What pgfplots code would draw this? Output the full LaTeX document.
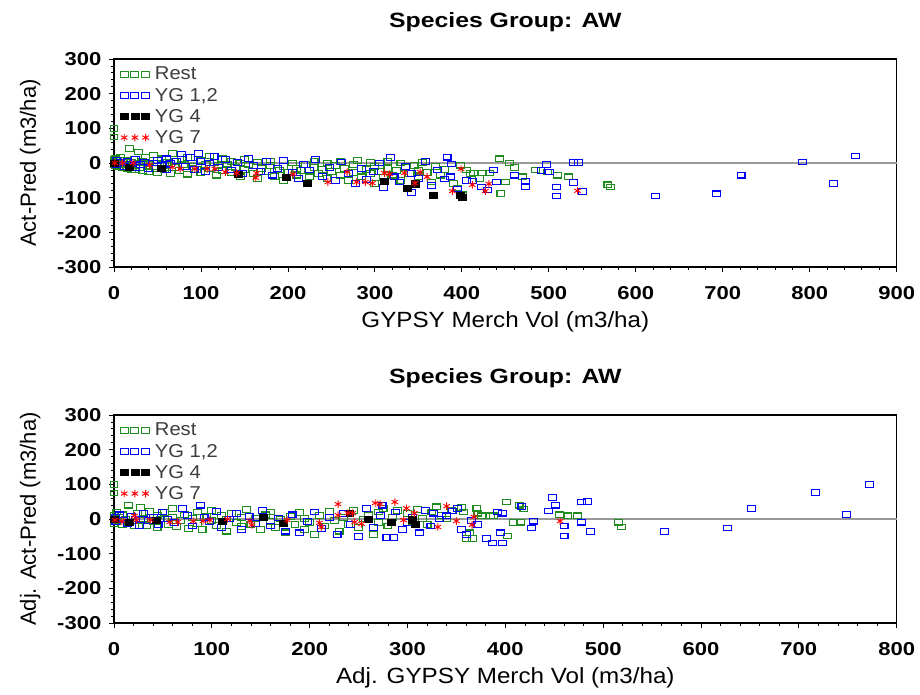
\documentclass[border=0pt]{standalone}
\usepackage{pgfplots}
\pgfplotsset{compat=1.18}
\usepackage{fontspec}
\setmainfont{Liberation Sans}
\definecolor{sgreen}{RGB}{30,140,30}
\definecolor{sblue}{RGB}{0,0,255}
\definecolor{sred}{RGB}{255,0,0}
\definecolor{legtext}{RGB}{60,60,60}
\pgfplotsset{
  sasaxis/.style={
    scale only axis, width=587pt, height=156pt,
    ymin=-300, ymax=300, ytick={-300,-200,...,300},
    minor y tick num=4, minor x tick num=4,
    tick align=outside, tick pos=left,
    major tick length=4pt, minor tick length=2pt,
    every tick/.style={black, line width=0.6pt},
    axis line style={line width=0.9pt},
    /pgf/number format/assume math mode=true,
    tick label style={font=\bfseries\fontsize{14}{16}\selectfont, xscale=1.18},
    yticklabel style={anchor=east, inner sep=0pt, xshift=-4.5pt},
    xticklabel style={anchor=north, inner sep=0pt, yshift=-10.5pt},
    label style={font=\fontsize{16.5}{18}\selectfont},
    xlabel style={at={(axis description cs:0.5,0)}, anchor=base, yshift=-45pt, xscale=1.1},
    ylabel style={at={(axis description cs:-0.107,0.5)}, anchor=center},
    title style={at={(axis description cs:0.5,1)}, anchor=base, yshift=18pt, xscale=1.2, font=\bfseries\fontsize{15.5}{17}\selectfont},
    clip=false,
    legend cell align=left,
    legend style={at={(axis description cs:0.006,0.975)}, anchor=north west, draw=none, fill=none,
      font=\fontsize{14}{16}\selectfont, text=legtext, row sep=2.5pt, column sep=3pt, inner sep=1pt,
      nodes={inner sep=1pt, xscale=1.08}},
    legend image code/.code={\draw[only marks] plot coordinates {(0pt,0pt) (8pt,0pt) (16pt,0pt)};},
  },
  grn/.style={only marks, mark=square, mark size=2.7pt, color=sgreen, mark options={xscale=1.1, yscale=0.8, line width=0.8pt}},
  blu/.style={only marks, mark=square, mark size=2.7pt, color=sblue, mark options={xscale=1.1, yscale=0.8, line width=0.8pt}},
  blk/.style={only marks, mark=square*, mark size=2.7pt, color=black, mark options={xscale=1.1, yscale=0.85}},
  rd/.style={only marks, mark=asterisk, mark size=2.8pt, color=sred, mark options={line width=0.7pt}},
}
\begin{document}
\begin{tikzpicture}
\useasboundingbox (-85.5pt,200.25pt) rectangle (604.5pt,-320.25pt);
\begin{axis}[sasaxis, xmin=0, xmax=900, xtick={0,100,...,900},
  title={Species Group: AW}, xlabel={GYPSY Merch Vol (m3/ha)}, ylabel={Act-Pred (m3/ha)}]
\addplot[gray!80, line width=1.1pt, forget plot] coordinates {(0,0) (900,0)};
\addplot[grn] coordinates {
(0,100)(0,75)(0,10)(0,5)(0,-5)(0,0)(2,-8)(2,12)(5,3)(5,-10)(8,-5)(8,15)(10,2)(10,-12)(13,8)(13,-3)
(15,-15)(15,5)(18,42)(18,-6)(20,2)(20,-18)(23,10)(25,-8)(25,-20)(28,32)(28,0)(30,-12)(33,5)(33,-22)
(36,15)(38,-10)(40,-3)(40,-25)(45,23)(45,8)(48,-15)(50,0)(50,-28)(55,12)(58,-8)(58,-20)(62,2)(65,-30)
(67,28)(70,5)(70,-12)(75,-22)(78,10)(80,-5)(85,-32)(85,15)(90,-10)(90,0)(95,-18)(100,8)(100,-28)
(105,-5)(110,-15)(110,20)(115,2)(118,-35)(120,-8)(125,12)(125,-22)(130,-3)(135,-28)(135,5)(140,-12)
(145,-40)(145,0)(150,-18)(150,10)(155,-5)(160,-30)(165,3)(165,-45)(170,-15)(175,-25)(180,-8)(180,5)
(185,-38)(190,-20)(195,-10)(195,-50)(200,-28)(205,0)(210,-15)(210,-35)(215,-22)(220,-5)(225,-40)
(230,-12)(230,5)(235,-30)(240,-18)(245,-45)(245,0)(250,-25)(255,-8)(260,-35)(260,5)(265,-15)(270,-50)
(275,-5)(275,-28)(280,8)(285,-40)(290,-18)(295,-30)(295,2)(300,-60)(300,-10)(305,-25)(310,-42)(315,5)
(315,-15)(320,-35)(325,-22)(330,-50)(330,0)(335,-12)(340,-30)(345,-8)(350,-40)(350,-20)(355,2)(360,-28)
(365,-55)(370,-10)(375,-35)(380,-18)(390,-60)(395,-72)(398,-6)(401,-92)(405,-20)(410,-30)(413,-29)
(420,-45)(424,-29)(432,-29)(443,12)(445,-87)(450,-55)(455,0)(461,-12)(470,-40)(485,-20)(499,-26)
(510,-35)(523,-40)(568,-63)(571,-69)};
\addlegendentry{Rest}
\addplot[blu] coordinates {
(3,-5)(3,8)(8,2)(12,-10)(15,5)(20,-3)(25,10)(25,-12)(30,-5)(35,3)(40,-15)(45,0)(50,8)(55,-8)(60,12)
(60,-20)(65,-2)(72,6)(78,26)(82,-10)(88,15)(92,-18)(97,28)(100,5)(105,-25)(110,0)(115,18)(120,-12)
(128,10)(135,-20)(142,2)(148,-30)(155,14)(160,-8)(168,-25)(175,5)(182,-35)(188,-15)(195,8)(205,-28)
(212,-45)(218,-5)(225,-20)(232,10)(240,-38)(248,-12)(255,-50)(262,3)(270,-30)(278,-60)(285,-15)
(290,-48)(298,-25)(305,0)(310,-70)(318,15)(322,-40)(328,-55)(335,-10)(342,-85)(342,-30)(350,-45)
(358,5)(365,-65)(372,-20)(380,-46)(383,17)(387,-40)(388,-3)(395,-75)(405,-50)(412,-52)(423,-69)
(429,-78)(436,-20)(440,-55)(461,-35)(473,-52)(473,-69)(491,-22)(497,-5)(501,-26)(509,-69)(509,-95)
(528,2)(528,-56)(534,2)(539,-83)(623,-95)(693,-89)(721,-35)(792,3)(827,-60)(853,20)};
\addlegendentry{YG 1,2}
\addplot[blk] coordinates {
(0,0)(18,-12)(54,-14)(143,-32)(198,-40)(222,-58)(311,-52)(337,-72)(346,-60)(367,-92)(398,-92)(401,-100)};
\addlegendentry{YG 4}
\addplot[rd] coordinates {
(1,0)(10,0)(22,0)(41,-6)(67,-12)(76,-17)(93,-17)(107,-17)(116,-17)(128,-26)(141,-29)(164,-29)(163,-43)
(206,-32)(246,-55)(268,-26)(279,-55)(289,-55)(297,-58)(311,-29)(317,-32)(334,-29)(352,-26)(360,-40)
(346,-58)(399,-17)(389,-81)(412,-63)(431,-60)(427,-81)(533,-80)};
\addlegendentry{YG 7}
\end{axis}
\begin{axis}[sasaxis, at={(0,-267pt)}, xmin=0, xmax=800, xtick={0,100,...,800},
  title={Species Group: AW}, xlabel={Adj. GYPSY Merch Vol (m3/ha)}, ylabel={Adj. Act-Pred (m3/ha)}]
\addplot[gray!80, line width=1.1pt, forget plot] coordinates {(0,0) (800,0)};
\addplot[grn] coordinates {
(0,100)(0,75)(0,10)(0,-5)(0,3)(0,-12)(3,20)(3,-8)(6,5)(9,-15)(9,12)(12,0)(15,40)(15,-10)(18,8)(21,-20)
(24,15)(27,34)(27,-5)(30,2)(33,-18)(36,22)(40,-8)(44,10)(44,-25)(48,0)(52,18)(56,-15)(60,31)(60,5)
(64,-22)(68,-5)(72,12)(76,-28)(80,3)(85,20)(85,-12)(90,-30)(95,8)(100,-5)(100,25)(105,-18)(110,10)
(115,-35)(115,0)(120,15)(125,-10)(130,-22)(130,5)(135,28)(140,-15)(145,2)(150,-30)(155,12)(160,-8)
(160,20)(165,-25)(170,0)(175,-40)(180,8)(185,-15)(190,18)(195,-30)(195,2)(200,-10)(205,-45)(210,10)
(215,-20)(220,22)(225,-5)(230,-35)(235,5)(240,-15)(245,25)(250,-25)(255,0)(260,12)(265,-45)(270,20)
(270,-10)(275,30)(280,-20)(285,5)(290,25)(295,-30)(300,15)(305,-8)(310,28)(315,2)(320,-15)(325,20)
(330,35)(335,10)(340,0)(345,25)(355,34)(357,20)(360,-57)(366,-57)(363,-40)(371,31)(372,17)(376,9)
(385,9)(388,9)(401,49)(402,-49)(408,-11)(414,40)(416,-9)(419,29)(455,12)(464,9)(474,9)(516,-9)(519,-23)};
\addlegendentry{Rest}
\addplot[blu] coordinates {
(2,5)(2,-8)(6,12)(10,-3)(14,-12)(18,8)(22,0)(26,-18)(30,15)(35,-5)(40,5)(45,-15)(50,20)(55,0)(62,-10)
(70,31)(75,10)(80,-20)(88,40)(92,5)(98,-8)(105,22)(110,-25)(118,0)(125,15)(130,-30)(138,8)(145,-12)
(152,25)(160,-20)(168,3)(175,-35)(182,12)(190,-40)(198,-8)(205,20)(212,-28)(220,5)(228,-45)(235,15)
(242,-15)(250,-50)(258,30)(265,-25)(272,10)(274,40)(279,-54)(286,-54)(288,20)(295,-30)(300,-10)(305,5)
(312,-40)(318,25)(324,-20)(327,17)(333,0)(340,9)(346,23)(351,31)(355,-30)(360,-45)(365,-5)(372,-15)
(381,-57)(387,-69)(392,20)(395,-40)(397,-69)(397,17)(417,37)(427,-26)(429,-6)(444,23)(448,63)(451,40)
(460,-20)(460,-49)(478,-9)(478,49)(484,51)(487,-37)(563,-37)(627,-26)(652,31)(717,77)(749,14)(772,100)};
\addlegendentry{YG 1,2}
\addplot[blk] coordinates {
(0,0)(16,-9)(43,-3)(111,-6)(153,6)(173,-11)(241,17)(260,0)(283,-10)(305,-2)(308,-14)};
\addlegendentry{YG 4}
\addplot[rd] coordinates {
(1,-3)(8,-6)(21,9)(23,-3)(37,-3)(57,-9)(65,-9)(81,-6)(91,-6)(98,-3)(116,0)(139,-6)(141,-17)(177,-3)
(210,-11)(212,-23)(229,11)(246,-9)(229,43)(239,17)(244,17)(253,-14)(267,46)(272,43)(287,49)(299,31)
(307,17)(296,-3)(331,-23)(340,37)(350,-6)(368,6)(366,-17)(456,-6)};
\addlegendentry{YG 7}
\end{axis}
\end{tikzpicture}
\end{document}
